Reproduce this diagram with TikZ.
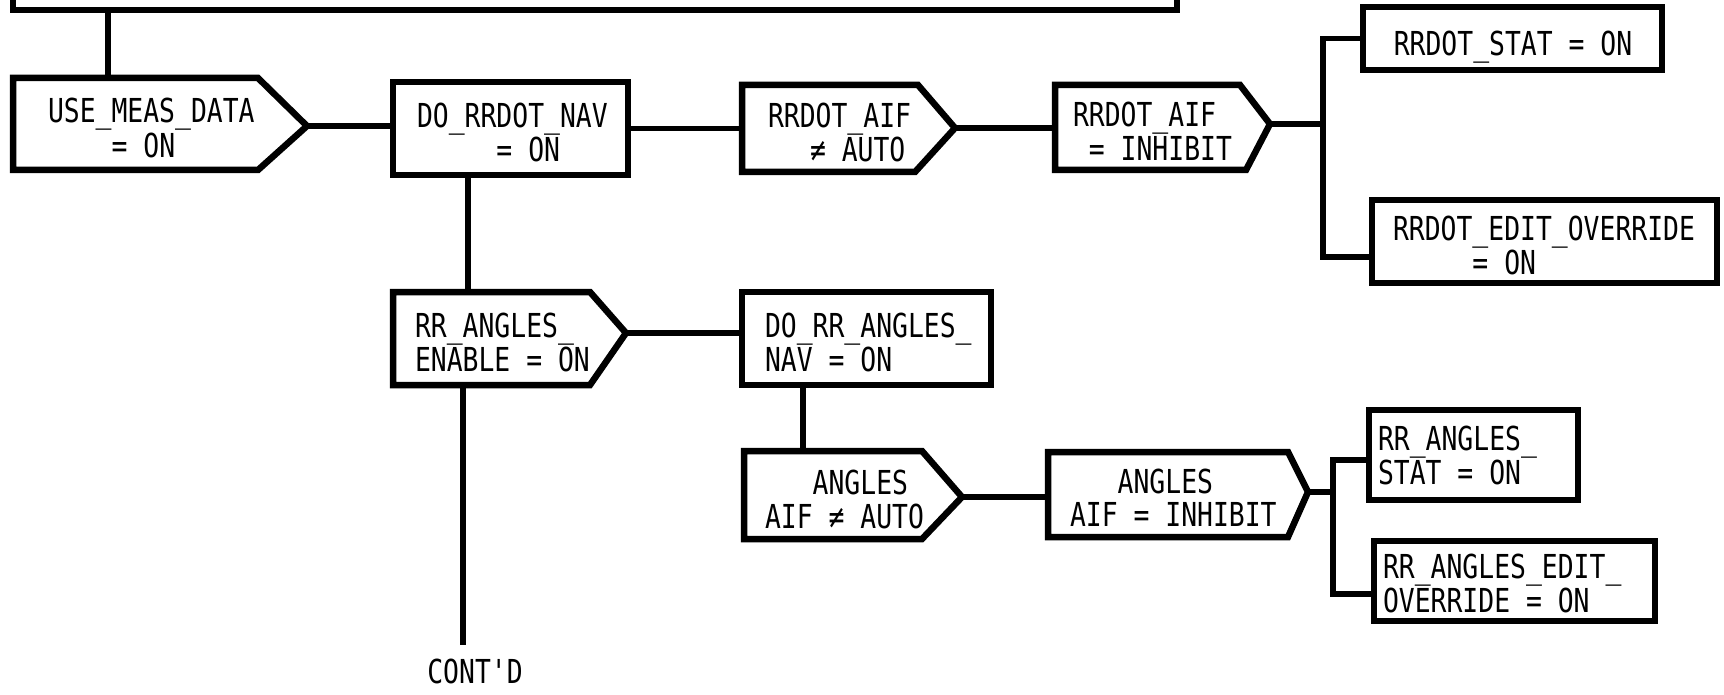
\documentclass[tikz,border=0pt]{standalone}
\usepackage{fontspec}
\newfontfamily\plotfont[FakeStretch=0.8,Ligatures=TeXOff]{DejaVu Sans Mono}
\newcommand\twoline[1]{\begin{tabular}[t]{@{}l@{}}#1\end{tabular}}
\begin{document}
\begin{tikzpicture}[x=1pt,y=-1pt,
  frame/.style={line width=6.5pt, line join=miter},
  conn/.style={line width=5.5pt},
  body/.style={inner sep=0pt, outer sep=0pt, anchor=north west},
  lbl/.style={inner sep=0pt, outer sep=0pt, font=\plotfont\fontsize{33}{33}\selectfont, anchor=base west}]
\useasboundingbox (0,0) rectangle (1724,695);

% ---- box bodies ----
\node[body, anchor=south west, minimum width=1164pt, minimum height=60pt] (top) at (13,10) {};
\node[body, minimum width=245pt, minimum height=92pt] (use)  at (13,78)  {};
\node[body, minimum width=235pt, minimum height=93pt] (dord) at (393,82) {};
\node[body, minimum width=176pt, minimum height=87pt] (rrdA) at (742,85) {};
\node[body, minimum width=185pt, minimum height=85pt] (rrdI) at (1055,85) {};
\node[body, minimum width=299pt, minimum height=63pt] (stat) at (1363,7) {};
\node[body, minimum width=345pt, minimum height=83pt] (edit) at (1372,200) {};
\node[body, minimum width=197pt, minimum height=93pt] (rra)  at (393,292) {};
\node[body, minimum width=249pt, minimum height=93pt] (dra)  at (742,292) {};
\node[body, minimum width=178pt, minimum height=88pt] (anr)  at (744,451) {};
\node[body, minimum width=240pt, minimum height=85pt] (anI)  at (1048,452) {};
\node[body, minimum width=209pt, minimum height=90pt] (ras)  at (1369,410) {};
\node[body, minimum width=281pt, minimum height=80pt] (rae)  at (1374,541) {};

% ---- pentagon points and connector ends ----
\coordinate (usePt)  at (307,126);
\coordinate (rrdAPt) at (955,128);
\coordinate (rrdIPt) at (1270,124);
\coordinate (rraPt)  at (626,333);
\coordinate (anrPt)  at (962,497);
\coordinate (anIPt)  at (1308,492);
\coordinate (useTop) at (108,78);
\coordinate (rrdBus) at (1323,124);
\coordinate (editIn) at (1372,257);
\coordinate (dordV)  at (468,175);
\coordinate (rraV)   at (463,385);
\coordinate (contEnd) at (463,645);
\coordinate (draV)   at (803,385);
\coordinate (anBus)  at (1333,492);
\coordinate (rasIn)  at (1369,460);
\coordinate (raeIn)  at (1374,594);

% ---- frames ----
\draw[frame] (top.south west) rectangle (top.north east);
\draw[frame] (use.north west) -- (use.north east) -- (usePt) -- (use.south east) -- (use.south west) -- cycle;
\draw[frame] (dord.north west) rectangle (dord.south east);
\draw[frame] (rrdA.north west) -- (rrdA.north east) -- (rrdAPt) -- ([xshift=-3pt]rrdA.south east) -- (rrdA.south west) -- cycle;
\draw[frame] (rrdI.north west) -- (rrdI.north east) -- (rrdIPt) -- ([xshift=6pt]rrdI.south east) -- (rrdI.south west) -- cycle;
\draw[frame] (stat.north west) rectangle (stat.south east);
\draw[frame] (edit.north west) rectangle (edit.south east);
\draw[frame] (rra.north west) -- (rra.north east) -- (rraPt) -- (rra.south east) -- (rra.south west) -- cycle;
\draw[frame] (dra.north west) rectangle (dra.south east);
\draw[frame] (anr.north west) -- (anr.north east) -- (anrPt) -- (anr.south east) -- (anr.south west) -- cycle;
\draw[frame] (anI.north west) -- (anI.north east) -- (anIPt) -- (anI.south east) -- (anI.south west) -- cycle;
\draw[frame] (ras.north west) rectangle (ras.south east);
\draw[frame] (rae.north west) rectangle (rae.south east);

% ---- connectors ----
\draw[conn] (useTop |- top.south) -- (useTop);
\draw[conn] (usePt) -- (usePt -| dord.west);
\draw[conn] (dord.east) -- (rrdA.west);
\draw[conn] (rrdAPt) -- (rrdAPt -| rrdI.west);
\draw[conn] (rrdIPt) -- (rrdBus);
\draw[conn] (stat.west) -| (rrdBus) |- (editIn);
\draw[conn] (dordV) -- (dordV |- rra.north);
\draw[conn] (rraPt) -- (rraPt -| dra.west);
\draw[conn] (rraV) -- (contEnd);
\draw[conn] (draV) -- (draV |- anr.north);
\draw[conn] (anrPt) -- (anrPt -| anI.west);
\draw[conn] (anIPt) -- (anBus);
\draw[conn] (rasIn) -| (anBus) |- (raeIn);

% ---- texts ----
\node[lbl] (useT)  at (48,123)    {\twoline{USE\_MEAS\_DATA\\\phantom{USE\_}= ON}};
\node[lbl] (dordT) at (417,127.5) {\twoline{DO\_RRDOT\_NAV\\\phantom{DO\_RR}= ON}};
\node[lbl] (rrdAT) at (768,127.5) {\twoline{RRDOT\_AIF\\\hspace*{42pt}≠ AUTO}};
\node[lbl] (rrdIT) at (1073,126.5) {\twoline{RRDOT\_AIF\\\phantom{R}= INHIBIT}};
\node[lbl, anchor=base] (statT) at (1513,56) {RRDOT\_STAT = ON};
\node[lbl] (editT) at (1393,240.5) {\twoline{RRDOT\_EDIT\_OVERRIDE\\\phantom{RRDOT}= ON}};
\node[lbl] (rraT)  at (415,337)   {\twoline{RR\_ANGLES\_\\ENABLE = ON}};
\node[lbl] (draT)  at (765,337)   {\twoline{DO\_RR\_ANGLES\_\\NAV = ON}};
\node[lbl] (anrT)  at (765,494)   {\twoline{\phantom{AIF}ANGLES\\AIF ≠ AUTO}};
\node[lbl] (anIT)  at (1070,493)  {\twoline{\phantom{AIF}ANGLES\\AIF = INHIBIT}};
\node[lbl] (rasT)  at (1378,450)  {\twoline{RR\_ANGLES\_\\STAT = ON}};
\node[lbl] (raeT)  at (1383,578)  {\twoline{RR\_ANGLES\_EDIT\_\\OVERRIDE = ON}};
\node[lbl, anchor=base] (contd) at (475,683) {CONT'D};
\end{tikzpicture}
\end{document}
